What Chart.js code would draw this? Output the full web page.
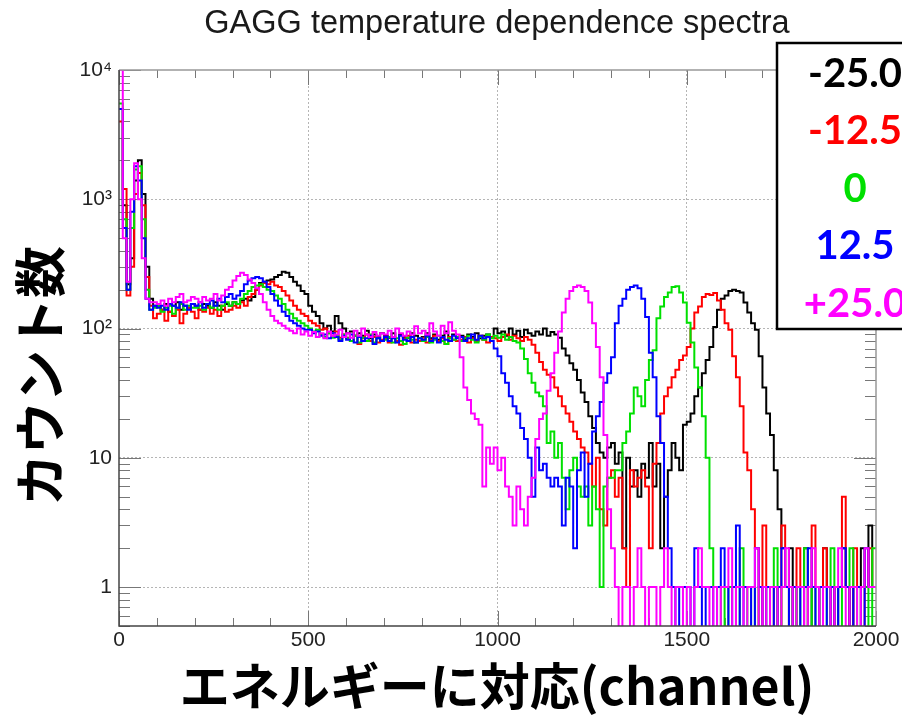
<!DOCTYPE html>
<html>
<head>
<meta charset="utf-8">
<script src="https://cdn.jsdelivr.net/npm/chart.js@4.4.0/dist/chart.umd.min.js"></script>
<style>
  body { margin: 0; background: #fff; }
  #wrap { width: 902px; height: 717px; position: relative; }
</style>
</head>
<body>
<div id="wrap"><canvas id="myChart"></canvas></div>
<script>
// spectra, counts per bin, bins are 10 channels wide (bin i = channels 10*i .. 10*i+10)
let binWidth = 10;
let temps = ["-25.0", "-12.5", "0", "12.5", "+25.0"];
let colors = ["#000000", "#ff0000", "#00e000", "#0000ff", "#ff00ff"];

let countsM25 = [
  5000, 900, 220, 350, 1400, 2000, 1100, 300, 170, 150,
  150, 140, 155, 135, 150, 160, 140, 150, 145, 155,
  150, 140, 155, 150, 145, 160, 150, 140, 155, 150,
  160, 155, 165, 170, 165, 175, 200, 225, 230, 235,
  240, 250, 260, 275, 270, 250, 230, 215, 195, 185,
  150, 135, 125, 110, 100, 105, 95, 125, 110, 100,
  92, 95, 88, 92, 88, 96, 84, 90, 86, 92,
  88, 85, 92, 80, 90, 86, 84, 92, 88, 80,
  86, 92, 84, 90, 82, 88, 95, 84, 90, 86,
  88, 82, 90, 86, 92, 84, 88, 90, 86, 100,
  92, 95, 88, 100, 90, 96, 86, 98, 92, 88,
  95, 90, 100, 88, 94, 90, 85, 70, 62, 54,
  48, 40, 32, 27, 21, 17, 13, 11, 10, 12,
  13, 9, 11, 2, 10, 6, 8, 5, 9, 7,
  13, 6, 9, 2, 5, 8, 13, 10, 8, 18,
  19, 22, 30, 35, 45, 57, 72, 103, 140, 170,
  180, 195, 200, 195, 190, 159, 133, 110, 98, 61,
  35, 22, 15, 8, 4, 2, 1, 2, 0, 1,
  1, 2, 0, 1, 1, 0, 2, 1, 1, 0,
  1, 2, 1, 0, 1, 1, 2, 1, 3, 1
];
let countsM12 = [
  4000, 1200, 180, 300, 1100, 1600, 900, 250, 150, 120,
  130, 140, 115, 135, 125, 140, 110, 130, 145, 135,
  120, 140, 135, 145, 130, 140, 125, 150, 135, 140,
  150, 145, 160, 150, 175, 185, 200, 215, 225, 220,
  230, 215, 210, 195, 180, 165, 150, 140, 130, 125,
  115, 110, 105, 98, 100, 92, 88, 95, 85, 90,
  85, 80, 88, 76, 84, 90, 80, 86, 78, 82,
  84, 78, 86, 80, 75, 84, 88, 78, 82, 80,
  85, 78, 82, 88, 80, 84, 76, 86, 82, 80,
  82, 86, 78, 84, 80, 88, 82, 78, 86, 84,
  80, 86, 90, 82, 88, 84, 80, 86, 82, 75,
  65, 55, 48, 44, 42, 35, 30, 25, 22, 19,
  16, 14, 12, 11, 9, 6, 10, 4, 3, 7,
  8, 5, 7, 2, 1, 8, 6, 7, 8, 6,
  2, 9, 13, 22, 30, 35, 42, 48, 57, 62,
  72, 100, 133, 148, 175, 185, 182, 188, 165, 140,
  110, 98, 61, 42, 25, 11, 8, 4, 2, 0,
  3, 1, 0, 1, 0, 3, 1, 0, 1, 2,
  1, 0, 1, 3, 1, 0, 2, 1, 0, 1,
  1, 5, 1, 0, 2, 1, 0, 1, 2, 1
];
let counts0 = [
  5500, 700, 200, 600, 1700, 1800, 700, 200, 140, 145,
  150, 135, 145, 150, 130, 145, 155, 140, 150, 145,
  145, 150, 140, 155, 145, 150, 140, 150, 160, 150,
  160, 155, 170, 185, 195, 210, 215, 220, 210, 200,
  195, 180, 170, 155, 140, 130, 120, 115, 110, 105,
  100, 95, 98, 90, 86, 92, 85, 88, 82, 90,
  84, 80, 88, 78, 85, 80, 90, 78, 84, 80,
  82, 86, 78, 84, 80, 76, 85, 82, 78, 84,
  80, 86, 78, 82, 88, 80, 76, 84, 82, 86,
  80, 84, 88, 82, 78, 86, 82, 90, 84, 88,
  85, 90, 82, 86, 80, 78, 70, 58, 45, 38,
  32, 30, 25, 13, 16, 10, 13, 7, 4, 8,
  10, 6, 5, 6, 3, 6, 4, 1, 6, 7,
  7, 8, 8, 13, 16, 22, 35, 30, 25, 40,
  57, 68, 120, 148, 175, 190, 210, 212, 190, 159,
  111, 78, 50, 35, 21, 10, 2, 1, 0, 1,
  0, 1, 1, 0, 2, 1, 0, 1, 0, 1,
  1, 0, 1, 2, 0, 1, 1, 0, 1, 0,
  1, 2, 0, 1, 0, 1, 1, 0, 2, 1,
  0, 1, 1, 2, 1, 0, 1, 1, 0, 2
];
let counts12 = [
  5000, 600, 200, 800, 1800, 1400, 500, 170, 140, 150,
  145, 150, 140, 155, 150, 145, 160, 150, 140, 155,
  150, 160, 145, 155, 165, 150, 170, 160, 175, 185,
  170, 180, 195, 220, 235, 245, 250, 245, 230, 210,
  185, 165, 150, 135, 125, 115, 110, 105, 100, 98,
  98, 92, 95, 88, 90, 84, 92, 86, 80, 88,
  82, 90, 78, 86, 80, 84, 88, 76, 84, 80,
  86, 80, 84, 78, 88, 82, 80, 86, 78, 84,
  82, 88, 80, 84, 78, 86, 82, 80, 88, 84,
  86, 80, 84, 90, 82, 88, 84, 86, 80, 70,
  61, 45, 38, 30, 25, 22, 17, 14, 10, 5,
  12, 8, 9, 7, 6, 7, 6, 3, 7, 6,
  2, 8, 11, 5, 9, 16, 21, 27, 38, 45,
  60, 110, 150, 170, 200, 210, 215, 205, 170, 123,
  65, 42, 21, 13, 5, 2, 1, 0, 1, 1,
  1, 0, 2, 1, 0, 1, 1, 0, 1, 2,
  1, 0, 1, 3, 0, 1, 1, 0, 2, 1,
  0, 1, 1, 0, 1, 2, 1, 0, 1, 1,
  0, 1, 2, 1, 0, 1, 1, 0, 1, 0,
  1, 2, 1, 0, 1, 1, 0, 2, 1, 1
];
let countsP25 = [
  10000, 500, 230, 1000, 1900, 1000, 350, 170, 160, 160,
  155, 165, 150, 170, 160, 175, 185, 160, 165, 175,
  170, 160, 175, 165, 170, 185, 165, 180, 200, 210,
  235, 255, 270, 260, 240, 225, 205, 185, 160, 140,
  125, 115, 110, 105, 100, 96, 92, 100, 90, 95,
  88, 94, 86, 92, 84, 95, 88, 90, 98, 86,
  92, 85, 96, 88, 100, 90, 86, 94, 88, 92,
  90, 96, 86, 100, 92, 88, 95, 90, 104, 92,
  96, 90, 110, 95, 88, 105, 92, 112, 96, 90,
  60, 35, 28, 22, 20, 18, 6, 12, 9, 12,
  8, 10, 6, 5, 3, 6, 4, 3, 5, 7,
  14, 20, 22, 33, 45, 65, 95, 133, 170, 195,
  210, 215, 210, 195, 159, 110, 72, 42, 15, 4,
  2, 1, 0, 1, 1, 0, 1, 2, 1, 0,
  1, 1, 0, 1, 2, 1, 0, 1, 1, 0,
  1, 0, 1, 2, 1, 1, 0, 1, 0, 1,
  1, 2, 0, 1, 1, 0, 1, 1, 2, 0,
  1, 0, 1, 1, 0, 1, 2, 1, 0, 1,
  1, 0, 1, 2, 1, 0, 1, 1, 0, 1,
  2, 1, 0, 1, 1, 0, 1, 2, 1, 1
];
let allCounts = [countsM25, countsM12, counts0, counts12, countsP25];

let xMax = 2000;
let xLabelStep = 500;
let yMin = 0.5, yMax = 10000;
let yLabels = { 1: "1", 10: "10", 100: "10²", 1000: "10³", 10000: "10⁴" };

let titleText = "GAGG temperature dependence spectra";
let xTitle = "エネルギーに対応(channel)";
let yTitle = "カウント数";

function isDecade(v) {
  let l = Math.log10(v);
  return Math.abs(l - Math.round(l)) < 1e-9;
}

// histogram as steps: a point at each bin's left edge, plus the closing edge
function toSteps(counts) {
  let pts = counts.map((c, i) => ({ x: i * binWidth, y: c > 0 ? c : 0.3 }));
  let last = counts[counts.length - 1];
  pts.push({ x: counts.length * binWidth, y: last > 0 ? last : 0.3 });
  return pts;
}

let datasets = allCounts.map((counts, k) => ({
  label: temps[k],
  data: toSteps(counts),
  borderColor: colors[k],
  backgroundColor: colors[k],
  borderWidth: 2,
  stepped: true,
  pointRadius: 0,
  fill: false,
  order: allCounts.length - k
}));

// frame, inside ticks, titles and the boxed legend (ROOT style)
let decorPlugin = {
  id: 'decor',
  beforeDatasetsDraw(chart) {
    let { ctx, chartArea: a, scales } = chart;
    let xs = scales.x, ys = scales.y;
    ctx.save();
    ctx.lineWidth = 1;
    ctx.strokeStyle = '#777';
    ctx.beginPath();
    for (let v = 0; v <= xMax; v += 100) {
      let px = Math.round(xs.getPixelForValue(v)) + 0.5;
      let len = v % xLabelStep === 0 ? 15 : 8;
      ctx.moveTo(px, a.bottom); ctx.lineTo(px, a.bottom - len);
      ctx.moveTo(px, a.top); ctx.lineTo(px, a.top + len);
    }
    for (let e = -1; e <= 4; e++) {
      for (let m = 1; m <= 9; m++) {
        let v = m * Math.pow(10, e);
        if (v < yMin || v > yMax) continue;
        let py = Math.round(ys.getPixelForValue(v)) + 0.5;
        let len = m === 1 ? 22 : 11;
        ctx.moveTo(a.left, py); ctx.lineTo(a.left + len, py);
        ctx.moveTo(a.right, py); ctx.lineTo(a.right - len, py);
      }
    }
    ctx.stroke();
    ctx.restore();
  },
  afterDatasetsDraw(chart) {
    let { ctx, chartArea: a } = chart;
    ctx.save();
    ctx.lineWidth = 1.5;
    ctx.strokeStyle = '#999';
    ctx.beginPath();
    ctx.moveTo(a.left, a.top); ctx.lineTo(a.right, a.top); ctx.lineTo(a.right, a.bottom);
    ctx.stroke();
    ctx.strokeStyle = '#444';
    ctx.beginPath();
    ctx.moveTo(a.left, a.top); ctx.lineTo(a.left, a.bottom); ctx.lineTo(a.right, a.bottom);
    ctx.stroke();
    ctx.restore();
  },
  afterDraw(chart) {
    let ctx = chart.ctx;
    ctx.save();
    ctx.fillStyle = '#1a1a1a';
    ctx.textAlign = 'center';
    ctx.textBaseline = 'middle';
    ctx.font = '32.5px "Liberation Sans", Arial, sans-serif';
    ctx.fillText(titleText, 497, 24);

    ctx.fillStyle = '#000';
    ctx.font = 'bold 50px "Noto Sans CJK JP", sans-serif';
    ctx.fillText(xTitle, 497, 686);
    ctx.save();
    ctx.translate(40, 376);
    ctx.rotate(-Math.PI / 2);
    ctx.font = 'bold 52px "Noto Sans CJK JP", sans-serif';
    ctx.fillText(yTitle, 0, 0);
    ctx.restore();

    // legend box, runs off the right edge like the original
    ctx.fillStyle = '#fff';
    ctx.fillRect(777, 43, 160, 286);
    ctx.lineWidth = 2.5;
    ctx.strokeStyle = '#000';
    ctx.strokeRect(777, 43, 160, 286);
    ctx.font = 'bold 40px Lato, "Noto Sans", sans-serif';
    chart.data.datasets.forEach((ds, k) => {
      ctx.fillStyle = ds.borderColor;
      ctx.fillText(ds.label, 855, 74 + k * 57.5);
    });
    ctx.restore();
  }
};

let ctx = document.getElementById('myChart').getContext('2d');
let myChart = new Chart(ctx, {
  type: 'line',
  data: { datasets: datasets },
  options: {
    responsive: true,
    maintainAspectRatio: false,
    animation: false,
    layout: { padding: { left: 59, right: 26, top: 70, bottom: 51 } },
    plugins: {
      legend: { display: false },
      title: { display: false },
      tooltip: { enabled: false }
    },
    scales: {
      x: {
        type: 'linear',
        min: 0,
        max: xMax,
        afterFit: (scale) => { scale.height = 40; },
        ticks: {
          stepSize: xLabelStep,
          maxRotation: 0,
          autoSkip: false,
          padding: 2,
          color: '#222',
          font: { family: '"Liberation Sans", Arial, sans-serif', size: 21 },
          callback: (v) => String(v)
        },
        grid: {
          drawTicks: false,
          lineWidth: 1,
          color: (c) => (c.tick && c.tick.value > 0 && c.tick.value < xMax) ? '#b5b5b5' : 'rgba(0,0,0,0)'
        },
        border: { display: false, dash: [2, 2] }
      },
      y: {
        type: 'logarithmic',
        min: yMin,
        max: yMax,
        afterFit: (scale) => { scale.width = 60; },
        ticks: {
          autoSkip: false,
          padding: 7,
          color: '#222',
          font: { family: '"Liberation Sans", Arial, sans-serif', size: 21 },
          callback: (v) => isDecade(v) ? (yLabels[Math.round(v)] || '') : ''
        },
        grid: {
          drawTicks: false,
          lineWidth: 1,
          color: (c) => (c.tick && isDecade(c.tick.value) && c.tick.value < yMax) ? '#b5b5b5' : 'rgba(0,0,0,0)'
        },
        border: { display: false, dash: [2, 2] }
      }
    }
  },
  plugins: [decorPlugin]
});
</script>
</body>
</html>
